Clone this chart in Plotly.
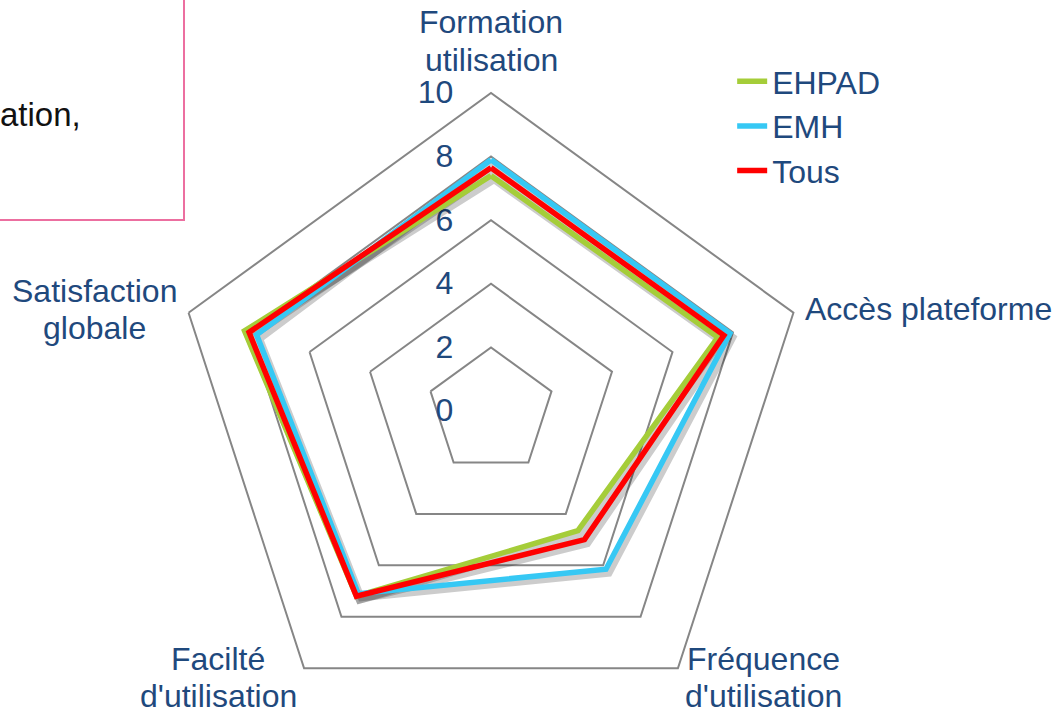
import math
import plotly.graph_objects as go

categories = ["Formation utilisation", "Accès plateforme", "Fréquence d'utilisation",
              "Facilté d'utilisation", "Satisfaction globale"]
category_lines = [["Formation", "utilisation"], ["Accès plateforme"], ["Fréquence", "d'utilisation"],
                  ["Facilté", "d'utilisation"], ["Satisfaction", "globale"]]
ehpad = [7.4, 7.5, 4.65, 7.2, 8.15]
emh = [7.9, 7.9, 6.15, 7.1, 7.75]
tous = [7.65, 7.7, 5.0, 7.2, 8.0]
series_names = ["EHPAD", "EMH", "Tous"]
series_colors = ["#A5CD39", "#36C8F4", "#FF0000"]
radial_ticks = [0, 2, 4, 6, 8, 10]

# The reference is a crop of a larger slide: figure extends slightly below the window.
W, H = 1055, 740
cx, cy, R = 491, 411, 318
TXT = "#1F497D"
FONT = "Arial, Liberation Sans, sans-serif"
FS = 32
LINE_GAP = 37

# Arial advance widths (per 1000 em) used to centre wrapped label lines
_AW = {"a": 556, "b": 556, "c": 500, "d": 556, "e": 556, "f": 278, "g": 556, "h": 556,
       "i": 222, "l": 222, "m": 833, "n": 556, "o": 556, "p": 556, "r": 333, "s": 500,
       "t": 278, "u": 556, "'": 191, " ": 278, "F": 611, "S": 667, "A": 667, "é": 556,
       "è": 556}


def text_w(t):
    return sum(_AW.get(ch, 556) for ch in t) * FS / 1000.0


def dom(dx=0, dy=0):
    return dict(x=[(cx - R + dx) / W, (cx + R + dx) / W],
                y=[(H - cy - R - dy) / H, (H - cy + R - dy) / H])


fig = go.Figure()
# soft drop shadows (same data, drawn in an offset transparent subplot)
for vals in [ehpad, emh, tous]:
    fig.add_trace(go.Scatterpolar(
        r=vals + vals[:1], theta=categories + categories[:1], mode="lines", subplot="polar2",
        showlegend=False, line=dict(color="rgba(0,0,0,0.2)", width=7), hoverinfo="skip"))
for name, vals, col in zip(series_names, [ehpad, emh, tous], series_colors):
    fig.add_trace(go.Scatterpolar(
        r=vals + vals[:1], theta=categories + categories[:1], mode="lines", subplot="polar3",
        name=name, line=dict(color=col, width=5.5), hoverinfo="skip"))
# invisible trace to give the grid subplot its categories
fig.add_trace(go.Scatterpolar(r=[0] * len(categories), theta=categories, mode="lines",
                              subplot="polar", showlegend=False, hoverinfo="skip",
                              line=dict(color="rgba(0,0,0,0)", width=0)))

# category labels placed just outside the outer polygon vertices
annotations = []
n = len(categories)
for i, lines in enumerate(category_lines):
    ang = math.radians(90 - 360 * i / n)
    c, s = math.cos(ang), math.sin(ang)
    vx, vy = cx + R * c, cy - R * s
    bw = max(text_w(t) for t in lines)
    if abs(c) < 0.1:
        bx, by = vx, vy - 52
    else:
        ax_, by = vx + 12 * c, vy - 12 * s
        bx = ax_ + bw / 2 if c > 0 else ax_ - bw / 2
    k = len(lines)
    for j, t in enumerate(lines):
        ly = by + (j - (k - 1) / 2) * LINE_GAP
        annotations.append(dict(text=t, xref="paper", yref="paper", x=bx / W, y=1 - ly / H,
                                xanchor="center", yanchor="middle", showarrow=False,
                                font=dict(size=FS, color=TXT, family=FONT)))

annotations.append(dict(text="ation,", xref="paper", yref="paper", x=-2 / W, y=1 - 115 / H,
                        xanchor="left", yanchor="middle", showarrow=False,
                        font=dict(size=33, color="#111111", family=FONT)))

common_angular = dict(direction="clockwise", rotation=90, showgrid=False, ticks="",
                      showticklabels=False)
hidden_radial = dict(range=[0, 10], visible=False, showgrid=False, showline=False)

fig.update_layout(
    width=W, height=H, margin=dict(l=0, r=0, t=0, b=0),
    paper_bgcolor="white", plot_bgcolor="white",
    font=dict(family=FONT, size=FS, color=TXT),
    polar=dict(
        domain=dom(),
        gridshape="linear",
        bgcolor="white",
        radialaxis=dict(range=[0, 10], tickvals=radial_ticks, angle=90, side="counterclockwise",
                        showline=False, gridcolor="#868686", gridwidth=2,
                        ticks="outside", ticklen=26, tickcolor="rgba(0,0,0,0)",
                        tickfont=dict(size=FS, color=TXT), tickangle=90),
        angularaxis=dict(common_angular, showline=True, linecolor="#868686", linewidth=2),
    ),
    polar2=dict(domain=dom(3, 4), gridshape="linear", bgcolor="rgba(0,0,0,0)",
                radialaxis=hidden_radial, angularaxis=dict(common_angular, showline=False)),
    polar3=dict(domain=dom(), gridshape="linear", bgcolor="rgba(0,0,0,0)",
                radialaxis=hidden_radial, angularaxis=dict(common_angular, showline=False)),
    legend=dict(x=0.694, y=1 - 54 / H, xanchor="left", yanchor="top",
                font=dict(size=FS, color=TXT), bgcolor="rgba(0,0,0,0)"),
    shapes=[dict(type="rect", xref="paper", yref="paper",
                 x0=-0.01, x1=184 / W, y0=1 - 220 / H, y1=1.01,
                 line=dict(color="#EC6FA0", width=2), fillcolor="rgba(0,0,0,0)")],
    annotations=annotations,
)

fig.write_html("out.html", config={"displayModeBar": False}, post_script=(
    "document.body.style.margin='0';"
    "document.body.style.overflow='hidden';"
    "document.documentElement.style.overflow='hidden';"))
